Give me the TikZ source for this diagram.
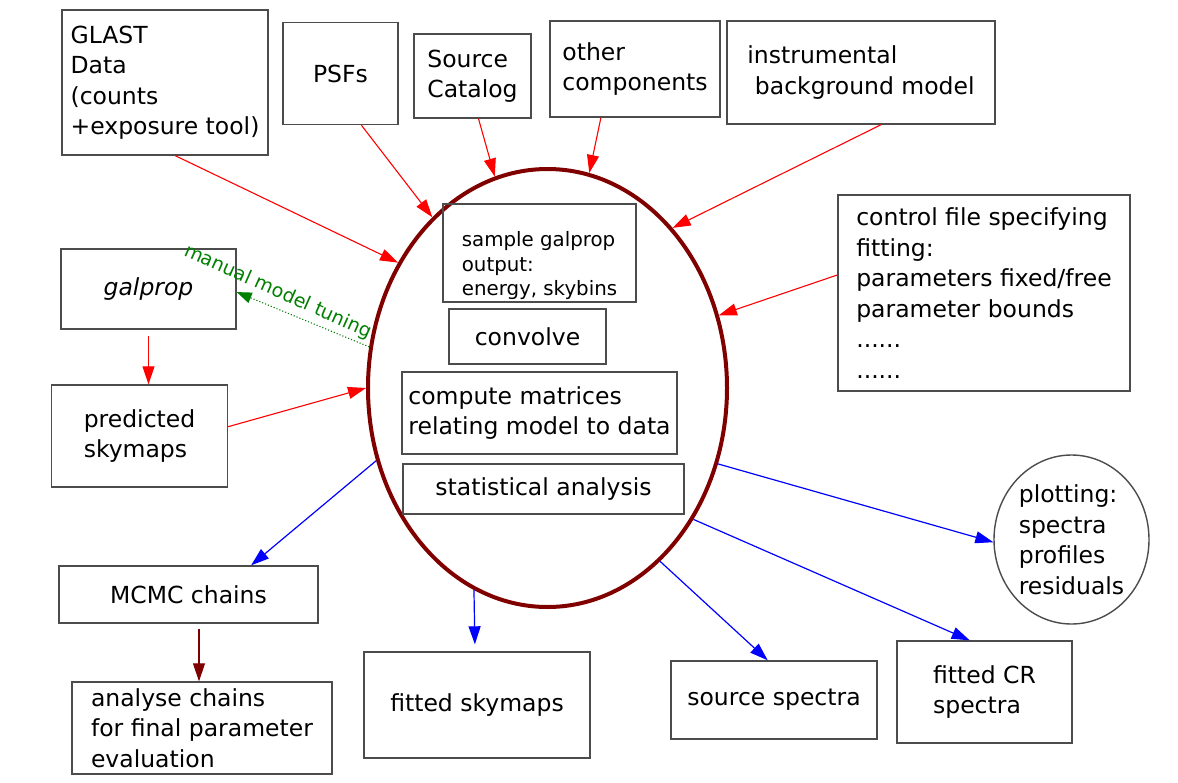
\documentclass[tikz,border=0pt]{standalone}
\usepackage{fontspec}
\setmainfont{DejaVu Sans}
\usepackage{tikz}
\usetikzlibrary{arrows.meta,shapes.geometric}
\definecolor{corered}{RGB}{128,0,0}
\definecolor{tunegreen}{RGB}{0,128,0}

\begin{document}
\begin{tikzpicture}[x=1pt,y=-1pt]
  \tikzset{flowbox/.style={draw=black!70,line width=1.4pt,align=left,inner sep=0pt,font=\fontsize{23.5}{30.5}\selectfont}}
  \tikzset{smallbox/.style={flowbox,font=\fontsize{19.8}{24.5}\selectfont}}
  \tikzset{coreloop/.style={ellipse,draw=corered,line width=4pt,inner sep=0pt}}
  \tikzset{inarrow/.style={draw=red,line width=1.1pt,-{Triangle[length=18pt,width=12pt]}}}
  \tikzset{outarrow/.style={draw=blue,line width=1.2pt,-{Triangle[length=18pt,width=12pt]}}}
  \tikzset{tunearrow/.style={draw=tunegreen,line width=1.1pt,dotted,-{Triangle[length=15pt,width=11pt]}}}
  \tikzset{chainarrow/.style={draw=corered,line width=1.1pt,-{Triangle[length=18pt,width=12pt]}}}
  \tikzset{tunelabel/.style={text=tunegreen,font=\fontsize{19}{22}\selectfont,inner sep=0pt}}
  \useasboundingbox[fill=white] (0,0) rectangle (1178,782);
  \node[coreloop,minimum width=359pt,minimum height=438pt] (core) at (547.5,388.0) {};
  \node[flowbox,minimum width=206pt,minimum height=145pt] (glast) at (165.0,82.5) {GLAST\\Data\\(counts\\+exposure tool)};
  \node[flowbox,minimum width=115pt,minimum height=102pt] (psfs) at (340.5,73.5) {PSFs};
  \node[flowbox,minimum width=117pt,minimum height=84pt] (catalog) at (472.5,76.0) {Source\\Catalog};
  \node[flowbox,minimum width=170pt,minimum height=96pt] (other) at (635.0,69.0) {other\\components};
  \node[flowbox,minimum width=268pt,minimum height=103pt] (instr) at (861.0,72.5) {instrumental\\\ background model};
  \node[flowbox,minimum width=292pt,minimum height=196pt] (control) at (984.0,293.0) {control file specifying\\fitting:\\parameters fixed/free\\parameter bounds\\......\\......};
  \node[flowbox,minimum width=175pt,minimum height=80pt] (galprop) at (148.5,289.0) {\itshape galprop};
  \node[flowbox,minimum width=176pt,minimum height=102pt] (predicted) at (139.5,436.0) {predicted\\skymaps};
  \node[smallbox,minimum width=193pt,minimum height=98pt,text height=90pt] (sample) at (539.5,253.0) {sample galprop\\output:\\energy, skybins};
  \node[flowbox,minimum width=157pt,minimum height=55pt] (convolve) at (527.5,336.5) {convolve};
  \node[flowbox,minimum width=275pt,minimum height=82pt] (compute) at (539.5,413.0) {compute matrices\\relating model to data};
  \node[flowbox,minimum width=281pt,minimum height=50pt] (stats) at (543.5,489.0) {statistical analysis};
  \node[flowbox,ellipse,minimum width=155pt,minimum height=169pt] (plotting) at (1071.5,539.5) {plotting:\\spectra\\profiles\\residuals};
  \node[flowbox,minimum width=259pt,minimum height=57pt] (mcmc) at (188.5,594.5) {MCMC chains};
  \node[flowbox,minimum width=260pt,minimum height=92pt] (analyse) at (202.0,728.0) {analyse chains\\for final parameter\\evaluation};
  \node[flowbox,minimum width=226pt,minimum height=106pt] (fittedsky) at (477.0,705.0) {fitted skymaps};
  \node[flowbox,minimum width=206pt,minimum height=78pt] (source) at (774.0,700.0) {source spectra};
  \node[flowbox,minimum width=175pt,minimum height=102pt] (fittedcr) at (984.5,692.0) {fitted CR\\spectra};
  \node[tunelabel,rotate=-24] (tuning) at (278.0,292.0) {manual model tuning};
  \draw[inarrow] (glast.-82) -- (core.140.9);
  \draw[inarrow] (psfs.-68.9) -- (core.124.9);
  \draw[inarrow] (catalog.-82.5) -- (core.104.2);
  \draw[inarrow] (other.-125.3) -- (core.79.5);
  \draw[inarrow] (instr.-69.8) -- (core.52.6);
  \draw[inarrow] (control.173.7) -- (core.23.1);
  \draw[inarrow] (predicted.6.4) -- (core.180.3);
  \draw[inarrow,shorten <=6pt] (galprop.south) -- (galprop.south |- predicted.north);
  \draw[tunearrow] (core.167.8) -- (galprop.-2);
  \draw[outarrow] (core.203.8) -- (mcmc.25);
  \draw[outarrow,shorten >=7pt] (core.250.2) -- ([xshift=-2pt]fittedsky.north);
  \draw[outarrow] (core.-57.8) -- (source.99.5);
  \draw[outarrow] (core.-42.2) -- (fittedcr.106.7);
  \draw[outarrow] (core.-24.6) -- (plotting.182.7);
  \draw[chainarrow,shorten <=5pt] ([xshift=10.5pt]mcmc.south) -- ([xshift=10.5pt]mcmc.south |- analyse.north);
\end{tikzpicture}
\end{document}
